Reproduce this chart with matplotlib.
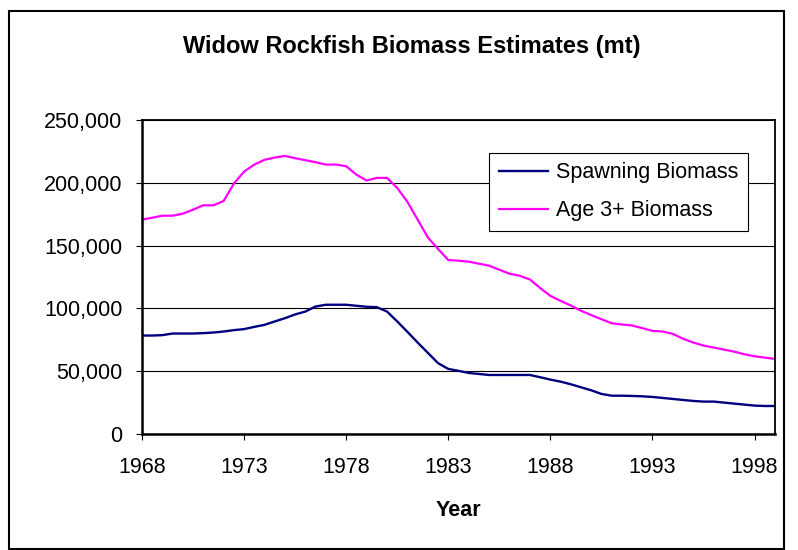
import numpy as np
import matplotlib
matplotlib.use("Agg")
import matplotlib.pyplot as plt
from matplotlib.ticker import FuncFormatter
from matplotlib.patches import Rectangle

# half-year steps, 1968 to 1999
years = np.arange(1968, 1999.01, 0.5)

# biomass in thousands of mt
spawning_kt = [
    78.4, 78.4, 78.7, 80.0, 80.0, 80.0, 80.3, 80.8, 81.6, 82.7,
    83.5, 85.3, 86.9, 89.6, 92.2, 95.2, 97.5, 101.5, 102.9, 102.9,
    102.9, 102.1, 101.3, 101.0, 97.5, 89.6, 81.3, 72.8, 64.6, 56.4,
    51.8, 50.3, 48.6, 47.8, 47.0, 47.0, 47.0, 47.0, 47.0, 45.2,
    43.3, 41.7, 39.6, 37.2, 34.8, 31.9, 30.5, 30.5, 30.3, 30.0,
    29.5, 28.7, 27.9, 27.1, 26.3, 25.8, 25.8, 25.0, 24.2, 23.4,
    22.6, 22.3, 22.3,
]
age3_kt = [
    170.7, 172.2, 173.8, 173.8, 175.4, 178.6, 182.1, 182.1, 185.5, 199.4,
    208.9, 214.5, 218.3, 220.1, 221.4, 219.6, 218.0, 216.4, 214.5, 214.5,
    213.2, 206.5, 201.8, 203.9, 203.9, 195.9, 184.8, 170.7, 156.5, 147.3,
    138.5, 138.0, 137.2, 135.6, 134.0, 130.8, 127.6, 126.0, 123.0, 116.2,
    110.0, 106.0, 102.3, 98.1, 94.7, 91.4, 88.2, 87.2, 86.4, 84.3,
    82.1, 81.6, 79.7, 75.8, 72.8, 70.4, 68.8, 67.2, 65.6, 63.5,
    61.9, 60.8, 59.8,
]

x_ticks = [1968, 1973, 1978, 1983, 1988, 1993, 1998]
y_ticks = [0, 50000, 100000, 150000, 200000, 250000]

spawning = np.array(spawning_kt) * 1000
age3 = np.array(age3_kt) * 1000

plt.rcParams["font.family"] = "Liberation Sans"
fs = 15.5

W, H = 798, 550
fig = plt.figure(figsize=(W / 100, H / 100), dpi=100)
ax = fig.add_axes([142 / W, 1 - 434 / H, (775 - 142) / W, (434 - 120) / H])

ax.plot(years, spawning, color="#000080", linewidth=1.7, label="Spawning Biomass")
ax.plot(years, age3, color="#FF00FF", linewidth=1.6, label="Age 3+ Biomass")

ax.set_xlim(1968, 1999)
ax.set_ylim(0, 250000)
ax.set_xticks(x_ticks)
ax.set_yticks(y_ticks)
ax.yaxis.set_major_formatter(FuncFormatter(lambda v, p: f"{v:,.0f}"))
ax.grid(axis="y", color="black", linewidth=0.8)
ax.set_axisbelow(True)

ax.tick_params(axis="y", direction="out", length=4.5, width=0.8, pad=9.5, labelsize=fs)
ax.tick_params(axis="x", direction="out", length=4.5, width=0.8, pad=12, labelsize=fs)
for side in ["left", "bottom"]:
    ax.spines[side].set_linewidth(1.8)
for side in ["top", "right"]:
    ax.spines[side].set_linewidth(1.3)

fig.text(412 / W, 1 - 46 / H, "Widow Rockfish Biomass Estimates (mt)",
         ha="center", va="center", fontsize=17, fontweight="bold")
fig.text(458 / W, 1 - 510.5 / H, "Year", ha="center", va="center",
         fontsize=fs, fontweight="bold")

leg = ax.legend(loc="upper left", bbox_to_anchor=(489 / W, 1 - 152.5 / H),
                bbox_transform=fig.transFigure, borderaxespad=0,
                fontsize=fs, frameon=True, fancybox=False, framealpha=1,
                edgecolor="black", borderpad=0.45, labelspacing=0.8,
                handlelength=2.3, handletextpad=0.35)
leg.get_frame().set_linewidth(0.8)

# chart area border
fig.patches.append(Rectangle((9 / W, 1 - 549 / H), (784 - 9) / W, (549 - 11) / H,
                             transform=fig.transFigure, fill=False,
                             edgecolor="black", linewidth=1.5))

fig.savefig("out.png", dpi=100)
